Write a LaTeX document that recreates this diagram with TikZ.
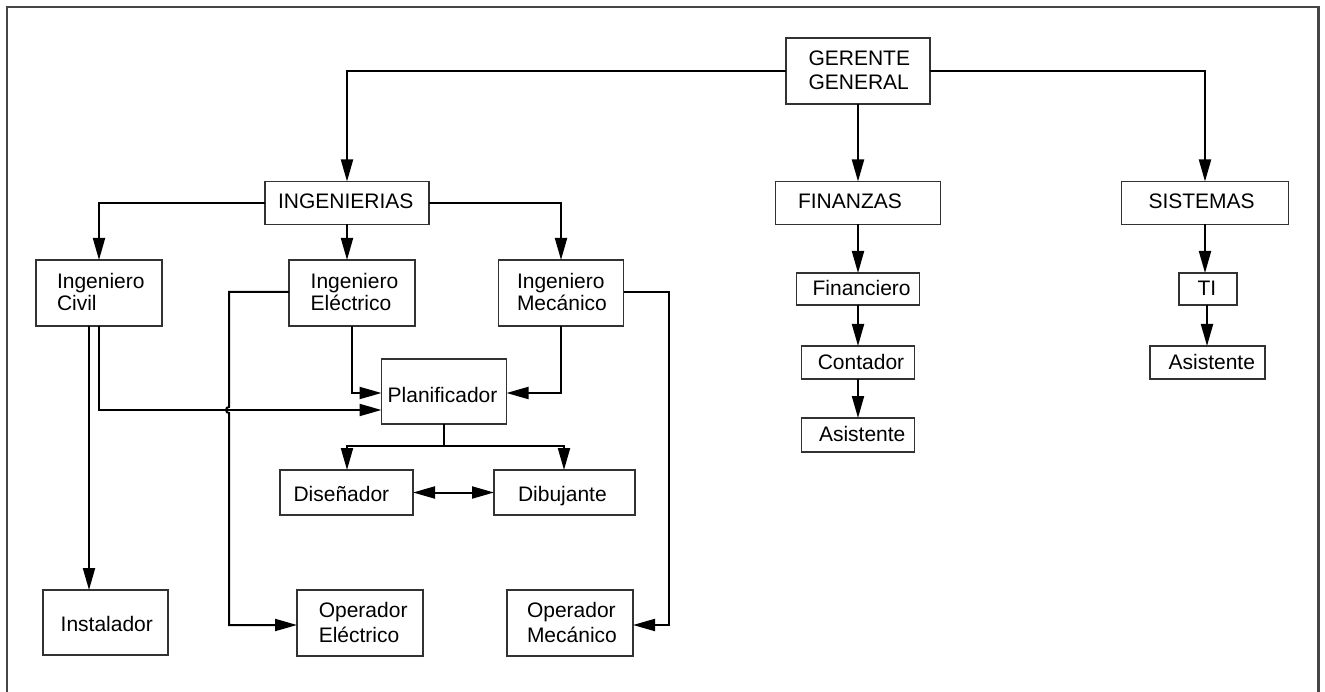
\documentclass[tikz,border=0pt]{standalone}
\usepackage{fontspec}
\setmainfont{Liberation Sans}
\usetikzlibrary{arrows.meta,calc}
\definecolor{boxline}{RGB}{50,50,50}
\definecolor{frameline}{RGB}{70,70,70}
\begin{document}
\begin{tikzpicture}[x=1pt,y=-1pt,
  box/.style={draw=boxline, line width=1.3pt, inner sep=0pt, outer sep=0pt, fill=white},
  txt/.style={font=\fontsize{21}{23}\selectfont, inner sep=0pt, outer sep=0pt, anchor=base west, text=black},
  conn/.style={line width=2pt, draw=black},
  arr/.style={conn, -{Triangle[length=22pt,width=12pt]}},
  darr/.style={conn, {Triangle[length=22pt,width=12pt]}-{Triangle[length=22pt,width=12pt]}}
]
\useasboundingbox (0,0) rectangle (1325,692);
% frame
\draw[frameline, line width=2pt] (7,700) -- (7,7) -- (1318,7);
\draw[frameline, line width=3pt] (1318,6) -- (1318,700);

% boxes
\node[box, minimum width=144pt, minimum height=66pt] (gg) at (858,71) {};
\node[box, minimum width=164pt, minimum height=43pt] (ing) at (347,203) {};
\node[box, minimum width=165pt, minimum height=43pt] (fin) at (858,203) {};
\node[box, minimum width=167pt, minimum height=43pt] (sis) at (1205,203) {};
\node[box, minimum width=126pt, minimum height=66pt] (civ) at (99,293) {};
\node[box, minimum width=126pt, minimum height=66pt] (ele) at (352,293) {};
\node[box, minimum width=125pt, minimum height=66pt] (mec) at (561,293) {};
\node[box, minimum width=125pt, minimum height=65pt] (pla) at (444,391.5) {};
\node[box, minimum width=133pt, minimum height=45pt] (dis) at (346.5,492.5) {};
\node[box, minimum width=141pt, minimum height=45pt] (dib) at (564.5,492.5) {};
\node[box, minimum width=125pt, minimum height=65pt] (ins) at (105.5,622.5) {};
\node[box, minimum width=126pt, minimum height=66pt] (ope) at (360,623) {};
\node[box, minimum width=126pt, minimum height=66pt] (opm) at (570,623) {};
\node[box, minimum width=123pt, minimum height=32pt] (fnc) at (858,289) {};
\node[box, minimum width=113pt, minimum height=33pt] (con) at (858,362.5) {};
\node[box, minimum width=113pt, minimum height=34pt] (asf) at (858,435) {};
\node[box, minimum width=58pt, minimum height=32pt] (ti) at (1208,289) {};
\node[box, minimum width=115pt, minimum height=33pt] (ass) at (1207.5,362.5) {};

% texts
\node[txt] (tgg1) at (808.5,65.7) {GERENTE};
\node[txt] (tgg2) at (808.5,89.3) {GENERAL};
\node[txt] (ting) at (278,209) {INGENIERIAS};
\node[txt] (tfin) at (798,208.5) {FINANZAS};
\node[txt] (tsis) at (1148.5,208.5) {SISTEMAS};
\node[txt] (tciv1) at (57,288.3) {Ingeniero};
\node[txt] (tciv2) at (57,311) {Civil};
\node[txt] (tele1) at (310.7,288.3) {Ingeniero};
\node[txt] (tele2) at (310.7,311) {Eléctrico};
\node[txt] (tmec1) at (517,288.3) {Ingeniero};
\node[txt] (tmec2) at (517,311) {Mecánico};
\node[txt] (tpla) at (387.7,402.7) {Planificador};
\node[txt] (tdis) at (293.5,501.7) {Diseñador};
\node[txt] (tdib) at (518,501.7) {Dibujante};
\node[txt] (tins) at (60.7,631.7) {Instalador};
\node[txt] (tope1) at (318.8,617) {Operador};
\node[txt] (tope2) at (318.8,642) {Eléctrico};
\node[txt] (topm1) at (527,617) {Operador};
\node[txt] (topm2) at (527,642) {Mecánico};
\node[txt] (tfnc) at (812.6,295.7) {Financiero};
\node[txt] (tcon) at (817.8,370) {Contador};
\node[txt] (tasf) at (819,441.7) {Asistente};
\node[txt] (tti) at (1197.5,295.7) {TI};
\node[txt] (tass) at (1168.6,370) {Asistente};

% connectors
\draw[arr] (gg.west) -| (ing.north);
\draw[arr] (gg.south) -- (gg.south |- fin.north);
\draw[arr] (gg.east) -| (sis.north);
\draw[arr] (ing.west) -| (civ.north);
\draw[arr] (ing.south) -- (ing.south |- ele.north);
\draw[arr] (ing.east) -| (mec.north);

\coordinate (civa) at ($(civ.south)+(-10,0)$);
\draw[arr] (civa) -- (civa |- ins.north);
\draw[arr] (civ.south) |- ($(pla.west)+(0,18.5)$);

\coordinate (elev) at (229,292);
\draw[arr] (ele.west |- elev) -- (elev) -- (229,407) arc[start angle=90, end angle=270, radius=3pt] -- (229,625) -- (ope.west |- 0,625);
\draw[arr] (ele.south) |- ($(pla.west)+(0,1.5)$);
\draw[arr] (mec.south) |- ($(pla.east)+(0,1.5)$);
\coordinate (mecr) at (669,292);
\draw[arr] (mec.east |- mecr) -- (mecr) |- (opm.east |- 0,625);

\coordinate (pj) at (444,446);
\coordinate (pjl) at (347,446);
\coordinate (pjr) at (564,446);
\draw[conn] (pla.south) -- (pj);
\draw[arr] (pj) -- (pjl) -- (pjl |- dis.north);
\draw[arr] (pj) -- (pjr) -- (pjr |- dib.north);
\draw[darr] (dis.east) -- (dib.west);

\draw[arr] (fin.south) -- (fnc.north);
\draw[arr] (fnc.south) -- (con.north);
\draw[arr] (con.south) -- (asf.north);

\draw[arr] (sis.south) -- (sis.south |- ti.north);
\coordinate (tib) at (1207,305);
\draw[arr] (tib) -- (tib |- ass.north);
\end{tikzpicture}
\end{document}
